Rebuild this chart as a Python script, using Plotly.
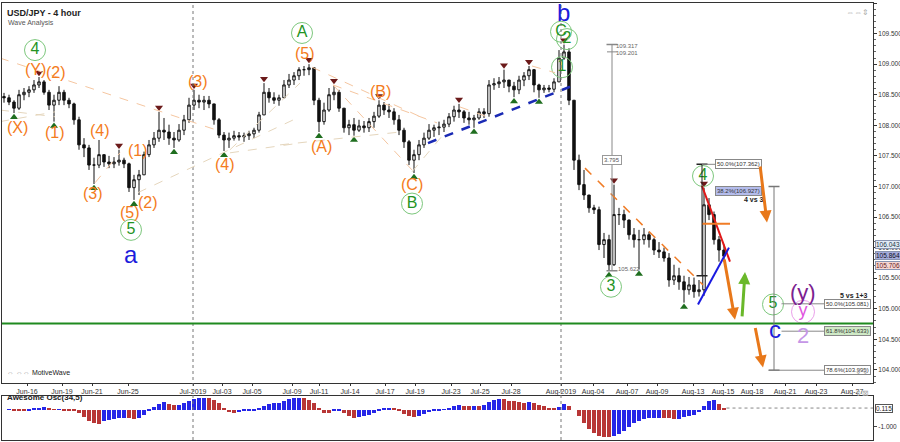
import plotly.graph_objects as go

# USD/JPY, one bar per 8 hours (index 0 ~ Jun-14)
first_open = 108.47
highs = [108.53, 108.50, 108.41, 108.58, 108.61, 108.64, 108.74, 108.79, 108.74, 108.58,
         108.50, 108.64, 108.58, 108.45, 108.37, 108.14, 107.79, 107.68, 107.47, 107.76,
         107.52, 107.50, 107.48, 107.60, 107.47, 107.39, 107.19, 107.27, 107.57, 107.76,
         107.89, 108.22, 108.12, 108.01, 107.89, 108.02, 108.17, 108.45, 108.58, 108.50,
         108.48, 108.48, 108.35, 108.12, 107.89, 107.88, 107.91, 107.89, 107.88, 107.91,
         107.96, 108.22, 108.69, 108.61, 108.54, 108.50, 108.74, 108.84, 108.87, 108.95,
         108.97, 109.00, 108.94, 108.45, 108.37, 108.61, 108.66, 108.58, 108.28, 108.09,
         108.12, 108.09, 108.07, 108.12, 108.22, 108.41, 108.38, 108.35, 108.28, 108.17,
         107.96, 107.76, 107.60, 107.76, 107.88, 108.02, 108.01, 108.06, 108.09, 108.20,
         108.32, 108.35, 108.25, 108.22, 108.17, 108.28, 108.28, 108.74, 108.77, 108.79,
         108.91, 108.74, 108.71, 108.81, 108.87, 108.97, 108.92, 108.68, 108.66, 108.66,
         108.77, 109.23, 109.32, 109.26, 108.41, 107.52, 107.27, 106.86, 106.70, 106.67,
         106.24, 106.21, 107.03, 106.65, 106.62, 106.46, 106.32, 106.29, 106.32, 106.26,
         106.16, 106.09, 106.00, 105.91, 105.72, 105.67, 105.54, 105.52, 105.51, 105.47,
         106.98, 106.81, 106.59, 106.19, 106.05]
lows = [108.37, 108.33, 108.20, 108.25, 108.41, 108.46, 108.53, 108.61, 108.50, 108.25,
        108.06, 108.33, 108.33, 108.28, 108.01, 107.60, 107.48, 107.27, 107.04, 107.30,
        107.32, 107.30, 107.30, 107.34, 107.30, 106.91, 106.78, 106.86, 107.19, 107.48,
        107.63, 107.73, 107.76, 107.68, 107.63, 107.73, 107.84, 108.04, 108.25, 108.28,
        108.25, 108.28, 108.01, 107.79, 107.58, 107.63, 107.75, 107.75, 107.73, 107.76,
        107.79, 107.88, 108.17, 108.37, 108.35, 108.32, 108.45, 108.61, 108.66, 108.74,
        108.81, 108.82, 108.33, 107.89, 108.01, 108.22, 108.41, 108.22, 107.88, 107.84,
        107.83, 107.89, 107.88, 107.89, 107.96, 108.12, 108.17, 108.12, 108.01, 107.84,
        107.63, 107.35, 107.22, 107.43, 107.63, 107.76, 107.81, 107.84, 107.89, 107.97,
        108.06, 108.12, 108.04, 108.01, 107.96, 108.09, 108.12, 108.14, 108.58, 108.61,
        108.61, 108.54, 108.46, 108.51, 108.64, 108.74, 108.54, 108.45, 108.53, 108.54,
        108.54, 108.71, 109.07, 108.33, 107.27, 106.94, 106.78, 106.57, 106.55, 105.96,
        105.83, 105.62, 105.70, 106.37, 106.32, 106.13, 106.00, 105.64, 106.05, 106.00,
        105.88, 105.83, 105.77, 105.36, 105.39, 105.31, 105.10, 105.23, 105.18, 105.20,
        105.21, 106.45, 106.05, 105.77, 105.77]
closes = [108.45, 108.38, 108.28, 108.50, 108.54, 108.58, 108.66, 108.71, 108.54, 108.33,
          108.41, 108.54, 108.41, 108.35, 108.09, 107.68, 107.63, 107.35, 107.35, 107.52,
          107.40, 107.37, 107.40, 107.43, 107.37, 106.98, 107.11, 107.19, 107.52, 107.68,
          107.79, 107.92, 107.89, 107.79, 107.76, 107.92, 108.09, 108.33, 108.41, 108.38,
          108.41, 108.35, 108.09, 107.84, 107.76, 107.79, 107.83, 107.81, 107.83, 107.86,
          107.92, 108.17, 108.54, 108.45, 108.41, 108.45, 108.66, 108.74, 108.81, 108.91,
          108.91, 108.94, 108.41, 108.06, 108.25, 108.50, 108.54, 108.28, 107.96, 108.01,
          107.92, 107.99, 107.96, 108.06, 108.15, 108.33, 108.25, 108.22, 108.09, 107.92,
          107.73, 107.43, 107.52, 107.68, 107.79, 107.92, 107.96, 107.97, 108.02, 108.14,
          108.25, 108.22, 108.12, 108.09, 108.12, 108.22, 108.19, 108.66, 108.68, 108.71,
          108.74, 108.64, 108.58, 108.74, 108.81, 108.91, 108.66, 108.58, 108.61, 108.59,
          108.71, 109.10, 109.20, 108.41, 107.43, 107.03, 106.86, 106.65, 106.62, 106.05,
          106.13, 105.72, 106.54, 106.54, 106.45, 106.21, 106.13, 106.13, 106.21, 106.13,
          105.96, 105.93, 105.83, 105.47, 105.54, 105.44, 105.31, 105.39, 105.28, 105.31,
          106.70, 106.54, 106.13, 105.96, 105.86]

# Awesome Oscillator (34,5)
ao = [0.0, 0.02, -0.02, -0.05, -0.1, -0.08, 0.05, 0.12, 0.18, 0.1,
      0.02, 0.02, -0.02, -0.04, -0.05, -0.2, -0.45, -0.65, -0.8, -0.85,
      -0.7, -0.6, -0.55, -0.5, -0.48, -0.5, -0.55, -0.52, -0.3, -0.05,
      0.15, 0.35, 0.45, 0.35, 0.28, 0.3, 0.38, 0.5, 0.62, 0.7,
      0.72, 0.7, 0.6, 0.4, 0.1, -0.15, -0.2, -0.12, -0.1, -0.05,
      -0.02, 0.05, 0.25, 0.35, 0.38, 0.4, 0.5, 0.62, 0.68, 0.7,
      0.68, 0.6, 0.4, 0.1, -0.18, -0.22, -0.08, -0.05, -0.2, -0.4,
      -0.48, -0.45, -0.4, -0.3, -0.2, -0.05, 0.05, 0.08, 0.05, -0.1,
      -0.25, -0.35, -0.42, -0.38, -0.25, -0.15, -0.08, -0.02, 0.02, 0.12,
      0.22, 0.28, 0.25, 0.22, 0.24, 0.22, 0.3, 0.45, 0.58, 0.65,
      0.62, 0.55, 0.5, 0.45, 0.42, 0.44, 0.4, 0.3, 0.2, 0.12,
      0.08, 0.15, 0.32, 0.25, 0.0, -0.4, -0.8, -1.15, -1.4, -1.6,
      -1.62, -1.65, -1.55, -1.45, -1.3, -1.05, -0.8, -0.65, -0.55, -0.5,
      -0.48, -0.47, -0.5, -0.52, -0.55, -0.55, -0.45, -0.38, -0.3, -0.12,
      0.2, 0.55, 0.58, 0.35, 0.115]

tick_pos = [4.6, 11.6, 17.6, 24.8, 37.8, 43.6, 49.6, 57.6, 63, 69.2, 76.2, 82.2, 89.4,
            95.2, 101.4, 111.4, 117.8, 124.6, 130.6, 137.8, 143.8, 149.6, 156.2, 162.4, 169.6]
tick_text = ['Jun-16', 'Jun-19', 'Jun-21', 'Jun-25', 'Jul-2019', 'Jul-03', 'Jul-05', 'Jul-09',
             'Jul-11', 'Jul-14', 'Jul-17', 'Jul-19', 'Jul-23', 'Jul-25', 'Jul-28', 'Aug-2019',
             'Aug-04', 'Aug-07', 'Aug-09', 'Aug-13', 'Aug-15', 'Aug-18', 'Aug-21', 'Aug-23', 'Aug-27']
month_starts = [37.8, 111.4]

pivot_highs = [7, 23, 31, 38, 52, 61, 66, 75, 91, 100, 105, 112, 122, 140]
pivot_lows = [2, 10, 18, 26, 34, 44, 63, 70, 82, 94, 102, 107, 121, 127, 136]

# wave labels
orange_text = ['(X)', '(Y)', '(2)', '(1)', '(4)', '(3)', '(1)', '(5)', '(2)', '(3)', '(4)',
               '(5)', '(A)', '(B)', '(C)']
orange_x = [2.6, 6.2, 10.4, 10.2, 19.2, 17.8, 26.8, 25.2, 28.8, 38.8, 44.2, 60.2, 63.4, 75.2, 81.6]
orange_y = [107.97, 108.92, 108.87, 107.89, 107.92, 106.88, 107.58, 106.58, 106.73, 108.71,
            107.36, 109.18, 107.66, 108.56, 107.03]

circ_text = ['4', '5', 'A', 'B', 'C', '2', '1', '3', '4', '5']
circ_x = [6.2, 25.4, 59.6, 81.6, 111.4, 112.6, 111.6, 121.4, 139.8, 153.8]
circ_y = [109.23, 106.29, 109.51, 106.72, 109.53, 109.41, 108.95, 105.36, 107.17, 105.07]

big_text = ['a', 'b', 'c']
big_x = [25.4, 111.8, 154.2]
big_y = [105.88, 109.85, 104.66]

fib_text = ['50.0%(107.362)', '38.2%(106.927)', '50.0%(105.081)', '61.8%(104.633)', '78.6%(103.995)']
fib_x = [146.8, 146.8, 168.6, 168.6, 168.6]
fib_y = [107.362, 106.927, 105.081, 104.633, 103.995]
fib_bg = ['white', '#b4bcec', 'white', '#cfeac6', 'white']

support = 104.76
last_ao = 0.115

n = len(closes)
idx = list(range(n))
opens = [first_open] + closes[:-1]

fig = go.Figure()

fig.add_trace(go.Candlestick(
    x=idx, open=opens, high=highs, low=lows, close=closes,
    increasing=dict(line=dict(color='#111', width=1), fillcolor='white'),
    decreasing=dict(line=dict(color='#111', width=1), fillcolor='#111'),
    whiskerwidth=0, hoverinfo='skip'))

# pivot markers
fig.add_trace(go.Scatter(x=pivot_highs, y=[highs[i] + 0.07 for i in pivot_highs], mode='markers',
                         marker=dict(symbol='triangle-down', size=7, color='#6b1a1a')))
fig.add_trace(go.Scatter(x=pivot_lows, y=[lows[i] - 0.07 for i in pivot_lows], mode='markers',
                         marker=dict(symbol='triangle-up', size=7, color='#1f6e1f')))

# circled green labels
fig.add_trace(go.Scatter(x=circ_x, y=circ_y, mode='markers+text', text=circ_text,
                         textposition='middle center', cliponaxis=False,
                         textfont=dict(size=16, color='#239323', family='Arial, Liberation Sans'),
                         marker=dict(symbol='circle-open', size=21, color='#7cc77c', line=dict(width=1))))
fig.add_trace(go.Scatter(x=[159.8], y=[104.95], mode='markers+text', text=['y'],
                         textposition='middle center', cliponaxis=False,
                         textfont=dict(size=18, color='#e055e0', family='Arial, Liberation Sans'),
                         marker=dict(symbol='circle-open', size=23, color='#eaa0ea', line=dict(width=1))))

# awesome oscillator
ao_colors = ['#2626e8' if i == 0 or ao[i] >= ao[i - 1] else '#b83636' for i in range(n)]
fig.add_trace(go.Bar(x=idx, y=ao, marker=dict(color=ao_colors, line=dict(width=0)), width=0.62,
                     xaxis='x2', yaxis='y2'))

shapes = []
for m in month_starts:
    shapes.append(dict(type='line', xref='x', yref='paper', x0=m, x1=m, y0=0, y1=1,
                       line=dict(color='#777', width=1, dash='dot')))
shapes.append(dict(type='line', xref='paper', yref='y', x0=0, x1=1, y0=support, y1=support,
                   line=dict(color='#1f8a1f', width=2)))

peach = '#f5c6a0'
tan = '#e5d6bd'
faint = [(-0.8, 109.10, 42.6, 107.92, peach), (-0.8, 108.25, 10.2, 108.14, tan),
         (-0.8, 108.06, 10.2, 108.22, tan), (26.8, 106.90, 59.2, 108.14, tan),
         (45.2, 107.55, 59.2, 107.71, tan), (45.2, 107.60, 59.2, 108.69, tan),
         (18.2, 107.06, 23.2, 107.55, peach), (55.2, 107.68, 79.2, 107.89, tan),
         (61.6, 108.95, 84.6, 108.09, peach), (65.8, 108.66, 81.6, 107.27, peach),
         (65.8, 108.66, 86.6, 108.04, peach), (81.6, 107.24, 88.6, 107.92, tan),
         (91.2, 108.30, 96.6, 108.14, peach), (105.6, 108.97, 110.2, 108.86, peach)]
for x0, y0, x1, y1, c in faint:
    shapes.append(dict(type='line', xref='x', yref='y', x0=x0, y0=y0, x1=x1, y1=y1,
                       line=dict(color=c, width=1, dash='dash')))

# analyst drawings
drawn = [(84.8, 107.71, 113.2, 108.63, '#1a2ab4', 2.5, 'dash'),
         (116.2, 107.30, 139.8, 105.39, '#f07c26', 1.5, 'dash'),
         (139.6, 107.01, 145.2, 105.77, '#e01818', 2, 'solid'),
         (138.8, 105.07, 145.0, 106.00, '#1a1ae0', 2, 'solid'),
         (139.6, 106.39, 145.2, 106.39, '#f07c26', 2, 'solid')]
for x0, y0, x1, y1, c, w, d in drawn:
    shapes.append(dict(type='line', xref='x', yref='y', x0=x0, y0=y0, x1=x1, y1=y1,
                       line=dict(color=c, width=w, dash=d)))

# measurement rulers
rulers = [(121.6, lows[121], highs[112], '#888'), (139.6, 105.54, fib_y[0], '#222'),
          (154.0, fib_y[4], 107.0, '#777')]
for x, y0, y1, c in rulers:
    shapes.append(dict(type='line', xref='x', yref='y', x0=x, x1=x, y0=y0, y1=y1,
                       line=dict(color=c, width=1)))
    for yy in (y0, y1):
        shapes.append(dict(type='line', xref='x', yref='y', x0=x - 1.1, x1=x + 1.1, y0=yy, y1=yy,
                           line=dict(color=c, width=1.5)))
shapes.append(dict(type='line', xref='x', yref='y', x0=120.6, x1=122.6, y0=109.201, y1=109.201,
                   line=dict(color='#888', width=1)))
shapes.append(dict(type='line', xref='x', yref='y', x0=139.6, x1=142.8, y0=fib_y[0], y1=fib_y[0],
                   line=dict(color='#888', width=1)))
for yy, x0 in zip(fib_y[2:], [155.5, 155.5, 153.0]):
    shapes.append(dict(type='line', xref='x', yref='y', x0=x0, x1=164.6, y0=yy, y1=yy,
                       line=dict(color='#888', width=1)))
shapes.append(dict(type='line', xref='x', yref='y2', x0=144.5, x1=173.8, y0=last_ao, y1=last_ao,
                   line=dict(color='#888', width=1, dash='dot')))

font = 'Arial, Liberation Sans, sans-serif'
ann = []
for t, x, y in zip(orange_text, orange_x, orange_y):
    ann.append(dict(x=x, y=y, xref='x', yref='y', text=t, showarrow=False,
                    font=dict(size=16, color='#f47b20', family=font)))
for t, x, y in zip(big_text, big_x, big_y):
    ann.append(dict(x=x, y=y, xref='x', yref='y', text=t, showarrow=False,
                    font=dict(size=24, color='#1c1cdc', family=font)))
ann.append(dict(x=159.8, y=105.26, xref='x', yref='y', text='(y)', showarrow=False,
                font=dict(size=22, color='#7b2290', family=font)))
ann.append(dict(x=159.8, y=104.56, xref='x', yref='y', text='2', showarrow=False,
                font=dict(size=22, color='#c596e6', family=font)))
for t, x, y, bg in zip(fib_text, fib_x, fib_y, fib_bg):
    ann.append(dict(x=x, y=y, xref='x', yref='y', text=t, showarrow=False, bgcolor=bg,
                    bordercolor='#888', borderwidth=1, borderpad=1,
                    font=dict(size=6, color='#333', family=font)))
small = [('109.317', 124.6, 109.30), ('109.201', 124.6, 109.18), ('105.622', 125.0, 105.65)]
for t, x, y in small:
    ann.append(dict(x=x, y=y, xref='x', yref='y', text=t, showarrow=False,
                    font=dict(size=6, color='#666', family=font)))
ann.append(dict(x=121.6, y=107.43, xref='x', yref='y', text='3.795', showarrow=False, bgcolor='white',
                bordercolor='#999', borderwidth=1, borderpad=1, font=dict(size=6, color='#555', family=font)))
ann.append(dict(x=150.0, y=106.79, xref='x', yref='y', text='<b>4 vs 3</b>', showarrow=False,
                font=dict(size=7, color='#222', family=font)))
ann.append(dict(x=170.0, y=105.22, xref='x', yref='y', text='<b>5 vs 1+3</b>', showarrow=False,
                font=dict(size=7, color='#222', family=font)))

arrows = [(144.0, 105.83, 146.2, 104.82, '#e8781a'), (151.2, 107.35, 152.6, 106.41, '#e8781a'),
          (150.2, 104.71, 151.8, 104.04, '#e8781a'), (147.6, 104.85, 148.2, 105.60, '#6ab82a')]
for ax, ay, x, y, c in arrows:
    ann.append(dict(x=x, y=y, ax=ax, ay=ay, xref='x', yref='y', axref='x', ayref='y', text='',
                    showarrow=True, arrowhead=2, arrowsize=0.8, arrowwidth=3, arrowcolor=c))

# price boxes on the right axis
for t, y, bg, fc in [('106.043', 106.043, '#e2ecf6', '#234'), ('105.864', 105.864, '#a5acdc', '#112'),
                     ('105.706', 105.706, '#f6d6d2', '#622')]:
    ann.append(dict(x=1.002, y=y, xref='paper', yref='y', text=t, showarrow=False, xanchor='left',
                    bgcolor=bg, bordercolor='#8894b0', borderwidth=1, borderpad=0,
                    font=dict(size=6.5, color=fc, family=font)))
ann.append(dict(x=1.002, y=last_ao, xref='paper', yref='y2', text='0.115', showarrow=False,
                xanchor='left', bgcolor='white', bordercolor='#555', borderwidth=1, borderpad=0,
                font=dict(size=6.5, color='#222', family=font)))

# titles
ann.append(dict(x=0.003, y=0.993, xref='paper', yref='paper', text='<b>USD/JPY - 4 hour</b>',
                showarrow=False, xanchor='left', font=dict(size=9, color='#222', family=font)))
ann.append(dict(x=0.005, y=0.969, xref='paper', yref='paper', text='Wave Analysis',
                showarrow=False, xanchor='left', font=dict(size=7, color='#555', family=font)))
ann.append(dict(x=0.003, y=0.142, xref='paper', yref='paper', text='<span style="color:#999">⇔ ⇔⇔</span> MotiveWave',
                showarrow=False, xanchor='left', font=dict(size=7, color='#222', family=font)))
ann.append(dict(x=0.003, y=0.083, xref='paper', yref='paper', text='<b>Awesome Osc(34,5)</b>',
                showarrow=False, xanchor='left', font=dict(size=8, color='#222', family=font)))
ann.append(dict(x=0.998, y=0.993, xref='paper', yref='paper', text='⇔⇔⇕', showarrow=False,
                xanchor='right', font=dict(size=8, color='#aaa', family=font)))
ann.append(dict(x=0.998, y=0.142, xref='paper', yref='paper', text='⇕⇕', showarrow=False,
                xanchor='right', font=dict(size=8, color='#aaa', family=font)))
ann.append(dict(x=0.998, y=0.092, xref='paper', yref='paper', text='⇕⊠', showarrow=False,
                xanchor='right', font=dict(size=8, color='#aaa', family=font)))

fig.update_layout(
    width=900, height=442,
    margin=dict(l=2, r=27, t=3, b=2),
    paper_bgcolor='white', plot_bgcolor='white',
    showlegend=False, bargap=0,
    font=dict(family=font),
    shapes=shapes, annotations=ann,
    xaxis=dict(domain=[0, 1], anchor='y', range=[-0.4, 173.8], tickvals=tick_pos, ticktext=tick_text,
               tickangle=0, ticks='outside', ticklen=2, tickcolor='#333',
               tickfont=dict(size=7, color='#333'),
               showline=True, linecolor='#333', mirror=True, showgrid=False, zeroline=False,
               rangeslider=dict(visible=False)),
    yaxis=dict(domain=[0.131, 1], anchor='x', side='right', range=[103.79, 110.0], tick0=104, dtick=0.5,
               tickformat='.3f', ticks='outside', ticklen=3, tickcolor='#333',
               minor=dict(ticks='outside', ticklen=2, dtick=0.1, tickcolor='#666'),
               tickfont=dict(size=6.5, color='#333'), showline=True, linecolor='#333', mirror=True,
               showgrid=False, zeroline=False, automargin=False),
    xaxis2=dict(domain=[0, 1], anchor='y2', matches='x', showticklabels=False, ticks='',
                showline=True, linecolor='#333', mirror=True, showgrid=False, zeroline=False),
    yaxis2=dict(domain=[0, 0.1], anchor='x2', side='right', range=[-1.8, 0.82], tickvals=[-1.0],
                ticktext=['-1.000'], ticks='outside', ticklen=3, tickfont=dict(size=6.5, color='#333'),
                showline=True, linecolor='#333', mirror=True, showgrid=False, zeroline=False,
                automargin=False),
)

# page body has a default margin; drop it so the figure sits at the window's corner
fig.write_html("out.html", config={'displayModeBar': False},
               post_script="document.body.style.margin='0px';")
